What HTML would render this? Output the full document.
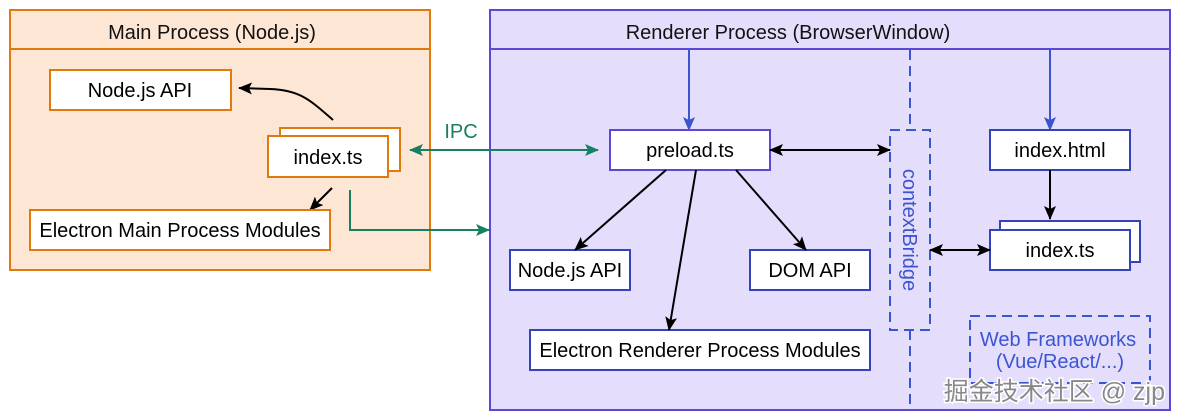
<!DOCTYPE html>
<html><head><meta charset="utf-8"><style>
html,body{margin:0;padding:0;background:#fff;}
svg{display:block;font-family:"Liberation Sans","Noto Sans CJK SC",sans-serif;}
</style></head><body>
<svg width="1180" height="420" viewBox="0 0 1180 420" xmlns="http://www.w3.org/2000/svg">
<defs>
<marker id="ab" markerWidth="14" markerHeight="12" refX="13" refY="6" orient="auto" markerUnits="userSpaceOnUse"><path d="M0,0 L14,6 L0,12 L3,6 z" fill="#000"/></marker>
<marker id="abs" markerWidth="14" markerHeight="12" refX="1" refY="6" orient="auto" markerUnits="userSpaceOnUse"><path d="M14,0 L0,6 L14,12 L11,6 z" fill="#000"/></marker>
<marker id="ag" markerWidth="14" markerHeight="12" refX="13" refY="6" orient="auto" markerUnits="userSpaceOnUse"><path d="M0,0 L14,6 L0,12 L3,6 z" fill="#178060"/></marker>
<marker id="ags" markerWidth="14" markerHeight="12" refX="1" refY="6" orient="auto" markerUnits="userSpaceOnUse"><path d="M14,0 L0,6 L14,12 L11,6 z" fill="#178060"/></marker>
<marker id="ablu" markerWidth="14" markerHeight="12" refX="13" refY="6" orient="auto" markerUnits="userSpaceOnUse"><path d="M0,0 L14,6 L0,12 L3,6 z" fill="#3b55d0"/></marker>
</defs>
<rect x="10" y="10" width="420" height="260" fill="#fee6d5" stroke="#e07a0c" stroke-width="2"/>
<line x1="10" y1="49" x2="430" y2="49" stroke="#e07a0c" stroke-width="2"/>
<text x="212" y="39" font-size="20" text-anchor="middle" fill="#111">Main Process (Node.js)</text>
<rect x="50" y="70" width="181" height="40" fill="#fff" stroke="#e07a0c" stroke-width="2"/>
<text x="140" y="97" font-size="20" text-anchor="middle">Node.js API</text>
<rect x="280" y="128" width="120" height="43" fill="#fff" stroke="#e07a0c" stroke-width="2"/>
<rect x="268" y="136" width="120" height="41" fill="#fff" stroke="#e07a0c" stroke-width="2"/>
<text x="328" y="164" font-size="20" text-anchor="middle">index.ts</text>
<path d="M333,120 C310,100 300,90 270,89 L239,88" fill="none" stroke="#000" stroke-width="2" marker-end="url(#ab)"/>
<line x1="332" y1="188" x2="310" y2="210" stroke="#000" stroke-width="2" marker-end="url(#ab)"/>
<rect x="30" y="210" width="300" height="40" fill="#fff" stroke="#e07a0c" stroke-width="2"/>
<text x="180" y="237" font-size="20" text-anchor="middle">Electron Main Process Modules</text>
<rect x="490" y="10" width="680" height="400" fill="#e4defc" stroke="#5d48d4" stroke-width="2"/>
<line x1="490" y1="49" x2="1170" y2="49" stroke="#5d48d4" stroke-width="2"/>
<text x="788" y="39" font-size="20" text-anchor="middle" fill="#111">Renderer Process (BrowserWindow)</text>
<path d="M350,190 L350,230 L489,230" fill="none" stroke="#178060" stroke-width="2" marker-end="url(#ag)"/>
<line x1="410" y1="150" x2="598" y2="150" stroke="#178060" stroke-width="2" marker-start="url(#ags)" marker-end="url(#ag)"/>
<text x="461" y="138" font-size="20" text-anchor="middle" fill="#178060">IPC</text>
<line x1="689" y1="50" x2="689" y2="130" stroke="#3b55d0" stroke-width="2" marker-end="url(#ablu)"/>
<line x1="1050" y1="50" x2="1050" y2="130" stroke="#3b55d0" stroke-width="2" marker-end="url(#ablu)"/>
<line x1="910" y1="50" x2="910" y2="130" stroke="#3b55d0" stroke-width="2" stroke-dasharray="10,6"/>
<line x1="910" y1="330" x2="910" y2="410" stroke="#3b55d0" stroke-width="2" stroke-dasharray="10,6"/>
<rect x="890" y="130" width="40" height="200" fill="none" stroke="#3b55d0" stroke-width="2" stroke-dasharray="10,6"/>
<text transform="translate(903,230) rotate(90)" font-size="20" text-anchor="middle" fill="#3b55d0">contextBridge</text>
<rect x="610" y="130" width="160" height="40" fill="#fff" stroke="#5d48d4" stroke-width="2"/>
<text x="690" y="157" font-size="20" text-anchor="middle">preload.ts</text>
<line x1="770" y1="150" x2="890" y2="150" stroke="#000" stroke-width="2" marker-start="url(#abs)" marker-end="url(#ab)"/>
<rect x="990" y="130" width="140" height="40" fill="#fff" stroke="#3344bb" stroke-width="2"/>
<text x="1060" y="157" font-size="20" text-anchor="middle">index.html</text>
<line x1="1050" y1="170" x2="1050" y2="219" stroke="#000" stroke-width="2" marker-end="url(#ab)"/>
<rect x="1000" y="221" width="140" height="41" fill="#fff" stroke="#3344bb" stroke-width="2"/>
<rect x="990" y="230" width="140" height="40" fill="#fff" stroke="#3344bb" stroke-width="2"/>
<text x="1060" y="257" font-size="20" text-anchor="middle">index.ts</text>
<line x1="930" y1="250" x2="990" y2="250" stroke="#000" stroke-width="2" marker-start="url(#abs)" marker-end="url(#ab)"/>
<rect x="510" y="250" width="120" height="40" fill="#fff" stroke="#3344bb" stroke-width="2"/>
<text x="570" y="277" font-size="20" text-anchor="middle">Node.js API</text>
<rect x="750" y="250" width="120" height="40" fill="#fff" stroke="#3344bb" stroke-width="2"/>
<text x="810" y="277" font-size="20" text-anchor="middle">DOM API</text>
<rect x="530" y="330" width="340" height="40" fill="#fff" stroke="#3344bb" stroke-width="2"/>
<text x="700" y="357" font-size="20" text-anchor="middle">Electron Renderer Process Modules</text>
<line x1="666" y1="170" x2="575" y2="250" stroke="#000" stroke-width="2" marker-end="url(#ab)"/>
<line x1="696" y1="170" x2="669" y2="330" stroke="#000" stroke-width="2" marker-end="url(#ab)"/>
<line x1="736" y1="170" x2="806" y2="250" stroke="#000" stroke-width="2" marker-end="url(#ab)"/>
<rect x="970" y="316" width="180" height="67" fill="none" stroke="#3b55d0" stroke-width="2" stroke-dasharray="10,6"/>
<text x="1058" y="346" font-size="20" text-anchor="middle" fill="#3b55d0">Web Frameworks</text>
<text x="1060" y="368" font-size="20" text-anchor="middle" fill="#3b55d0">(Vue/React/...)</text>
<text x="1165" y="400" font-size="25" text-anchor="end" fill="#888" stroke="#fff" stroke-width="3" paint-order="stroke">掘金技术社区 @ zjp</text>
</svg>
</body></html>
